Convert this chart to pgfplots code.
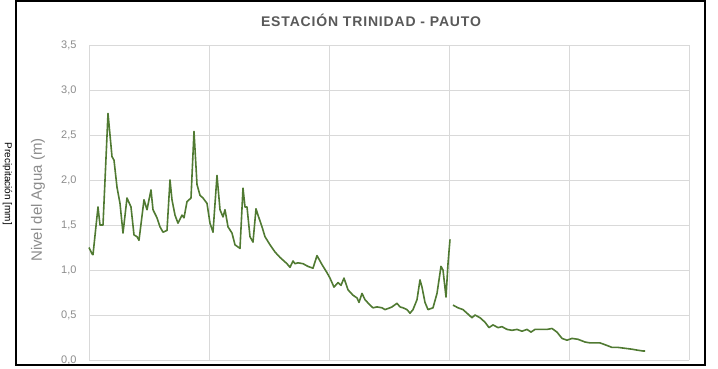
\documentclass[border=0pt]{standalone}
\usepackage{pgfplots}
\pgfplotsset{compat=1.18}
\usepackage{fontspec}
\setmainfont{Liberation Sans}
\definecolor{linegreen}{RGB}{80,122,50}
\definecolor{gridgray}{RGB}{217,217,217}
\definecolor{txtgray}{RGB}{140,140,140}
\definecolor{titlegray}{RGB}{89,89,89}
\begin{document}
\begin{tikzpicture}[x=1pt,y=1pt]
\useasboundingbox (0,0) rectangle (718,368);
\fill[white] (0,0) rectangle (718,368);
\node[rotate=-90,font=\fontsize{10}{12}\selectfont,text=black,inner sep=0pt] at (7.5,184) {Precipitación [mm]};
\begin{scope}
\clip (16,3) rectangle (705,367);
\begin{axis}[
  at={(89pt,8pt)}, anchor=south west,
  scale only axis, width=600pt, height=315pt,
  xmin=0, xmax=600, ymin=0, ymax=3.5,
  xtick={0,120,240,360,480,600}, xticklabels={},
  ytick={0,0.5,1,1.5,2,2.5,3,3.5},
  grid=major, major grid style={gridgray, line width=0.8pt},
  axis line style={draw=none},
  major tick length=0pt,
  /pgf/number format/assume math mode=true,
  /pgf/number format/use comma,
  /pgf/number format/fixed,
  /pgf/number format/fixed zerofill,
  /pgf/number format/precision=1,
  yticklabel style={font=\fontsize{11}{12}\selectfont, text=txtgray, xshift=-9pt},
  clip=false,
]
\addplot[linegreen, line width=1.6pt, line join=round] coordinates {
(0,1.25)(3,1.18)(4,1.17)(9,1.70)(11,1.50)(14,1.50)(19,2.74)(23,2.26)(25,2.22)(28,1.92)(31,1.74)(34,1.41)(38,1.80)(42,1.70)(45,1.39)(48,1.37)(50,1.33)(55,1.78)(58,1.67)(62,1.89)(64,1.67)(68,1.58)(71,1.48)(74,1.42)(78,1.44)(81,2.00)(83,1.78)(86,1.61)(89,1.52)(93,1.61)(95,1.58)(98,1.76)(102,1.80)(105,2.54)(108,1.95)(111,1.83)(114,1.80)(118,1.74)(121,1.52)(124,1.42)(128,2.05)(131,1.67)(134,1.59)(136,1.67)(139,1.48)(143,1.41)(146,1.28)(151,1.24)(154,1.91)(156,1.70)(158,1.70)(161,1.37)(164,1.31)(167,1.68)(169,1.61)(173,1.48)(176,1.37)(181,1.28)(186,1.20)(191,1.14)(198,1.07)(201,1.03)(204,1.10)(206,1.07)(209,1.08)(214,1.07)(219,1.04)(224,1.02)(228,1.16)(233,1.06)(238,0.97)(241,0.91)(245,0.81)(249,0.86)(252,0.83)(255,0.91)(259,0.78)(264,0.72)(268,0.69)(270,0.64)(273,0.74)(276,0.67)(281,0.61)(284,0.58)(288,0.59)(293,0.58)(296,0.56)(301,0.58)(303,0.59)(308,0.63)(311,0.59)(314,0.58)(318,0.56)(321,0.52)(324,0.56)(328,0.67)(331,0.89)(333,0.81)(336,0.64)(339,0.56)(344,0.58)(348,0.74)(352,1.04)(354,1.00)(357,0.70)(359,1.07)(361,1.34)
};
\addplot[linegreen, line width=1.6pt, line join=round] coordinates {
(364,0.61)(369,0.58)(374,0.56)(378,0.52)(383,0.47)(386,0.50)(391,0.47)(396,0.42)(400,0.36)(404,0.39)(409,0.36)(413,0.37)(418,0.34)(423,0.33)(428,0.34)(433,0.32)(438,0.34)(442,0.31)(446,0.34)(451,0.34)(458,0.34)(463,0.35)(468,0.31)(473,0.24)(478,0.22)(483,0.24)(489,0.23)(496,0.20)(501,0.19)(506,0.19)(511,0.19)(516,0.17)(523,0.14)(529,0.14)(536,0.13)(543,0.12)(548,0.11)(554,0.10)(556,0.10)
};
\end{axis}
\end{scope}
\node[rotate=90, font=\fontsize{15}{17}\selectfont, text=txtgray] at (38,168) {Nivel del Agua (m)};
\node[font=\bfseries\fontsize{14}{16}\selectfont\addfontfeature{LetterSpace=6}, text=titlegray] at (371,348) {ESTACIÓN TRINIDAD - PAUTO};
\draw[black, line width=2pt] (16,3) rectangle (705,367);
\end{tikzpicture}
\end{document}
